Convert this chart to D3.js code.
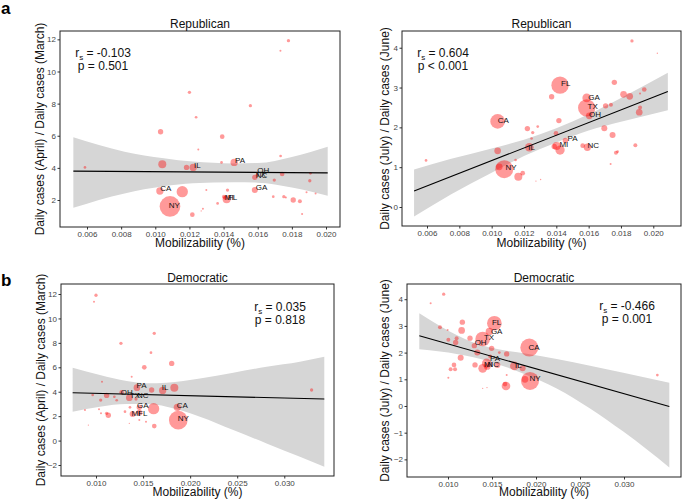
<!DOCTYPE html>
<html><head><meta charset="utf-8">
<script src="https://cdn.jsdelivr.net/npm/d3@7"></script>
<style>
body{margin:0;background:#fff}
svg{display:block}
text{font-family:"Liberation Sans",Arial,Helvetica,sans-serif}
</style>
</head><body>
<svg id="chart" width="685" height="502"></svg>
<script>
// ---------------- DATA ----------------
// Tick values
const xTicksRep = [0.006, 0.008, 0.010, 0.012, 0.014, 0.016, 0.018, 0.020];
const xTicksDem = [0.010, 0.015, 0.020, 0.025, 0.030];
const yTicksRepApr = [2, 4, 6, 8, 10, 12];
const yTicksRepJul = [0, 1, 2, 3, 4];
const yTicksDemApr = [-2, 0, 2, 4, 6, 8, 10, 12];
const yTicksDemJul = [-2, -1, 0, 1, 2, 3, 4];

// Panel a (left): Republican, April / March
const repAprX = [0.00588,0.01031,0.01392,0.01252,0.01041,0.01183,0.01222,0.01388,0.01462,0.01734,0.01583,0.01597,0.01743,0.01697,0.01909,0.01905,0.01027,0.01158,0.01299,0.01423,0.01583,0.01086,0.01217,0.01279,0.01269,0.01365,0.01402,0.01418,0.01410,0.01691,0.01753,0.01765,0.01808,0.01847,0.01886,0.01939,0.01860,0.01200,0.01239,0.01557,0.01733,0.01780];
const repAprY = [4.03,6.25,5.94,5.15,4.22,4.03,4.03,4.34,4.34,4.74,3.41,3.56,3.62,3.24,3.66,3.20,2.56,2.52,2.62,2.62,2.62,1.60,1.09,1.46,1.32,1.79,2.21,2.04,2.12,2.21,2.21,2.15,2.00,1.92,2.48,2.41,1.13,8.70,7.15,7.87,11.29,11.92];
const repAprSize = [1.6,6.3,4.8,0.9,14.1,6.3,11.8,1.6,11.8,1.6,6.3,2.4,4.8,2.4,1.6,2.4,11.8,28.2,0.9,2.4,7.9,93.8,4.8,0.9,0.4,1.6,3.5,14.1,3.5,1.6,2.4,0.9,6.3,3.5,0.9,0.9,0.9,2.4,1.6,2.4,0.9,2.4];
const repAprLabels = ["PA","IL","OH","NC","TX","GA","CA","NY","MI","FL"];
const repAprLabelX = [0.01496,0.01246,0.01632,0.01622,0.01617,0.01622,0.01062,0.01111,0.01433,0.01453];
const repAprLabelY = [4.45,4.18,3.83,3.54,3.58,2.77,2.73,1.69,2.15,2.15];
const repAprFitX = [0.0052, 0.0201];
const repAprFitY = [3.80, 3.69];
const repAprBandX = [0.0052,0.0082,0.0105,0.0122,0.0146,0.016,0.018,0.0201];
const repAprBandLo = [1.52,2.41,2.85,3.04,3.10,3.08,2.78,2.27];
const repAprBandHi = [5.90,5.01,4.60,4.39,4.28,4.30,4.68,5.32];
const repAprStats = ["= -0.103", "p = 0.501"];

// Panel a (right): Republican, July / June
const repJulX = [0.00594,0.01037,0.01037,0.01047,0.01078,0.01165,0.01192,0.01148,0.01221,0.01247,0.01254,0.01285,0.01233,0.01274,0.01303,0.01371,0.01398,0.01416,0.01402,0.01423,0.01423,0.01456,0.01563,0.01588,0.01588,0.01604,0.01592,0.01697,0.01705,0.01738,0.01759,0.01748,0.01736,0.01769,0.01779,0.01816,0.01854,0.01868,0.01889,0.01918,0.01944,0.01913,0.01918,0.02025,0.01387];
const repJulY = [1.17,1.41,2.15,1.01,0.95,0.76,0.85,1.18,1.97,1.72,1.87,2.02,1.50,0.65,0.69,2.77,1.85,2.17,1.53,1.43,3.06,1.67,1.54,2.74,2.49,2.29,1.50,1.98,2.54,2.57,3.13,1.81,1.08,1.36,1.39,2.83,2.78,4.17,1.55,2.85,2.95,2.38,2.50,3.86,1.52];
const repJulSize = [1.6,9.8,47.3,9.8,71.2,14.1,4.8,1.6,6.3,1.6,2.4,1.6,16.5,0.4,0.4,6.3,4.8,6.3,14.1,19.1,66,6.3,4.8,16.5,66,9.8,11.8,7.9,6.3,3.5,6.3,7.9,0.9,3.5,1.6,9.8,9.8,2.4,3.5,0.9,4.8,9.8,3.5,0.4,6.3];
const repJulLabels = ["FL","GA","TX","OH","CA","PA","MI","NC","IL","NY"];
const repJulLabelX = [0.01458,0.01633,0.01625,0.01639,0.01072,0.01501,0.01447,0.01629,0.01247,0.01120];
const repJulLabelY = [3.10,2.77,2.52,2.33,2.17,1.72,1.57,1.54,1.51,1.00];
const repJulFitX = [0.0052, 0.0209];
const repJulFitY = [0.40, 2.90];
const repJulBandX = [0.0052,0.0075,0.010,0.012,0.014,0.016,0.018,0.0209];
const repJulBandLo = [-0.24,0.32,0.86,1.28,1.62,1.92,2.14,2.43];
const repJulBandHi = [0.94,1.21,1.47,1.69,1.98,2.33,2.74,3.37];
const repJulStats = ["= 0.604", "p < 0.001"];

// Panel b (left): Democratic, April / March
const demAprX = [0.0100,0.00979,0.01265,0.01619,0.01584,0.01513,0.01804,0.01379,0.01064,0.01435,0.01591,0.01708,0.01832,0.00965,0.01113,0.01050,0.01195,0.01273,0.01354,0.01425,0.00883,0.01032,0.01053,0.01131,0.01113,0.00919,0.01308,0.01361,0.01389,0.01460,0.01460,0.01612,0.01460,0.01531,0.01619,0.01864,0.01874,0.03290,0.01354,0.01220];
const demAprY = [11.9,11.37,7.96,8.78,7.20,6.00,6.32,5.23,4.82,4.33,4.14,4.11,4.33,3.73,3.70,3.32,3.59,3.95,3.51,3.40,2.50,2.56,2.23,2.07,2.23,1.27,2.37,2.72,2.17,2.72,2.28,2.61,1.68,1.55,1.19,2.72,1.68,4.14,1.41,3.30];
const demAprSize = [2.4,0.9,2.4,2.4,1.6,4.8,6.3,0.9,0.9,9.8,6.3,11.8,14.1,1.6,6.3,2.4,1.6,4.8,9.8,2.4,0.9,0.9,0.9,6.3,2.4,0.4,1.6,1.6,7.9,6.3,7.9,28.2,0.9,0.9,4.8,11.8,76.6,2.4,0.4,1.6];
const demAprLabels = ["PA","IL","OH","TX","NC","GA","MI","FL","CA","NY"];
const demAprLabelX = [0.01485,0.01733,0.01326,0.01414,0.01496,0.01496,0.01425,0.01496,0.01917,0.01927];
const demAprLabelY = [4.55,4.36,4.00,3.68,3.68,2.91,2.28,2.28,2.86,1.82];
const demAprFitX = [0.00752, 0.03425];
const demAprFitY = [3.92, 3.40];
const demAprBandX = [0.00752,0.01042,0.01326,0.01538,0.0175,0.02104,0.02458,0.02812,0.03166,0.03425];
const demAprBandLo = [2.37,2.78,2.99,2.99,2.78,1.96,0.86,-0.23,-1.32,-2.14];
const demAprBandHi = [5.97,5.37,4.88,4.69,4.74,5.09,5.56,6.05,6.46,6.87];
const demAprStats = ["= 0.035", "p = 0.818"];

// Panel b (right): Democratic, July / June
const demJulX = [0.00803,0.00951,0.00909,0.00996,0.01004,0.01004,0.01030,0.01068,0.01080,0.01087,0.01098,0.01155,0.01163,0.01144,0.01250,0.01299,0.01307,0.01333,0.01394,0.01394,0.01443,0.01394,0.01439,0.01447,0.01470,0.01496,0.01527,0.01480,0.01561,0.01583,0.01667,0.01667,0.01659,0.01648,0.01754,0.01848,0.01924,0.01932,0.01875,0.03379];
const demJulY = [3.85,4.19,2.95,2.85,2.48,1.06,1.38,1.54,1.38,2.38,2.54,2.83,3.14,1.81,2.54,2.26,1.54,2.00,2.51,0.66,0.69,1.41,1.60,1.48,2.79,2.16,3.10,1.85,1.54,2.00,1.16,1.95,0.75,0.82,1.50,1.41,2.19,0.94,1.00,1.16];
const demJulSize = [0.9,2.4,3.5,0.9,3.5,0.9,3.5,4.8,3.5,6.3,3.5,9.8,6.3,7.9,6.3,6.3,6.3,7.9,47.3,0.4,0.4,16.5,19.1,9.8,11.8,6.3,47.3,3.5,7.9,1.6,0.9,6.3,16.5,4.8,16.5,7.9,71.2,71.2,9.8,1.6];
const demJulLabels = ["FL","GA","TX","OH","CA","PA","MI","NC","IL","NY"];
const demJulLabelX = [0.01553,0.01553,0.01466,0.01371,0.01977,0.01534,0.01459,0.01515,0.01799,0.01989];
const demJulLabelY = [3.14,2.81,2.58,2.38,2.19,1.79,1.58,1.58,1.54,1.04];
const demJulFitX = [0.00674, 0.03515];
const demJulFitY = [2.63, -0.02];
const demJulBandX = [0.00674,0.00909,0.01098,0.01288,0.01477,0.01667,0.01894,0.02235,0.02614,0.02992,0.03515];
const demJulBandLo = [2.125,2.04,1.95,1.825,1.66,1.45,1.16,0.66,-0.09,-0.96,-2.30];
const demJulBandHi = [3.475,3.0,2.66,2.38,2.19,2.07,1.96,1.76,1.51,1.25,0.875];
const demJulStats = ["= -0.466", "p = 0.001"];

const xTitle = "Mobilizability (%)";
const yTitleApr = "Daily cases (April) / Daily cases (March)";
const yTitleJul = "Daily cases (July) / Daily cases (June)";

// ---------------- DRAW ----------------
const svg = d3.select("#chart");
const rScale = d3.scaleSqrt().domain([0, 100]).range([0, 10.67]);

function drawPanel(c) {
  const x = d3.scaleLinear().domain(c.xDomain).range([c.box.l, c.box.r]);
  const y = d3.scaleLinear().domain(c.yDomain).range([c.box.b, c.box.t]);
  const g = svg.append("g");

  // confidence band
  const band = c.bandX.map((v, i) => ({x: v, lo: c.bandLo[i], hi: c.bandHi[i]}));
  g.append("path").datum(band)
    .attr("d", d3.area().x(d => x(d.x)).y0(d => y(d.lo)).y1(d => y(d.hi)).curve(d3.curveMonotoneX))
    .attr("fill", "#d6d6d6");

  // points
  const pts = c.px.map((v, i) => ({x: v, y: c.py[i], s: c.ps[i]}));
  pts.sort((a, b) => b.s - a.s);
  g.selectAll("circle.pt").data(pts).enter().append("circle")
    .attr("cx", d => x(d.x)).attr("cy", d => y(d.y))
    .attr("r", d => rScale(d.s))
    .attr("fill", "#ff0000").attr("fill-opacity", 0.4);

  // fit line
  const fit = c.fitX.map((v, i) => ({x: v, y: c.fitY[i]}));
  g.append("path").datum(fit)
    .attr("d", d3.line().x(d => x(d.x)).y(d => y(d.y)))
    .attr("stroke", "#000").attr("stroke-width", 1.1).attr("fill", "none");

  // state labels
  const labs = c.labels.map((t, i) => ({t, x: c.labelX[i], y: c.labelY[i]}));
  g.selectAll("text.lab").data(labs).enter().append("text")
    .attr("x", d => x(d.x)).attr("y", d => y(d.y))
    .attr("dy", "0.35em").attr("text-anchor", "middle")
    .attr("font-size", 8).attr("fill", "#111")
    .text(d => d.t);

  // axes
  const ax = g.append("g").attr("transform", `translate(0,${c.box.b})`)
    .call(d3.axisBottom(x).tickValues(c.xTicks).tickFormat(d3.format(".3f")).tickSize(2.5).tickPadding(1.5));
  const ay = g.append("g").attr("transform", `translate(${c.box.l},0)`)
    .call(d3.axisLeft(y).tickValues(c.yTicks).tickFormat(d3.format("d")).tickSize(2.5).tickPadding(1.5));
  [ax, ay].forEach(a => {
    a.select(".domain").remove();
    a.selectAll(".tick line").attr("stroke", "#333");
    a.selectAll(".tick text").attr("fill", "#444").attr("font-size", 8)
      .attr("font-family", '"Liberation Sans",Arial,sans-serif');
  });

  // border
  g.append("rect").attr("x", c.box.l).attr("y", c.box.t)
    .attr("width", c.box.r - c.box.l).attr("height", c.box.b - c.box.t)
    .attr("fill", "none").attr("stroke", "#222").attr("stroke-width", 1);

  // title
  g.append("text").attr("x", (c.box.l + c.box.r) / 2).attr("y", c.titleY)
    .attr("text-anchor", "middle").attr("font-size", 12).attr("fill", "#111").text(c.title);

  // axis titles
  g.append("text").attr("x", (c.box.l + c.box.r) / 2).attr("y", c.xTitleY)
    .attr("text-anchor", "middle").attr("font-size", 12).attr("fill", "#111").text(xTitle);
  g.append("text").attr("transform", `translate(${c.yTitleX},${(c.box.t + c.box.b) / 2}) rotate(-90)`)
    .attr("text-anchor", "middle").attr("font-size", 12).attr("fill", "#111").text(c.yTitle);

  // stats
  const s1 = g.append("text").attr("x", c.statX).attr("y", c.statY)
    .attr("text-anchor", "middle").attr("font-size", 12).attr("fill", "#111");
  s1.append("tspan").text("r");
  s1.append("tspan").attr("font-size", 8).attr("dy", 3).text("s");
  s1.append("tspan").attr("dy", -3).text(" " + c.stats[0]);
  g.append("text").attr("x", c.statX).attr("y", c.statY + 13)
    .attr("text-anchor", "middle").attr("font-size", 12).attr("fill", "#111").text(c.stats[1]);
}

drawPanel({
  box: {l: 60, r: 340, t: 31, b: 227},
  xDomain: [0.004418, 0.02082], yDomain: [0.32, 12.52],
  xTicks: xTicksRep, yTicks: yTicksRepApr,
  px: repAprX, py: repAprY, ps: repAprSize,
  labels: repAprLabels, labelX: repAprLabelX, labelY: repAprLabelY,
  fitX: repAprFitX, fitY: repAprFitY,
  bandX: repAprBandX, bandLo: repAprBandLo, bandHi: repAprBandHi,
  stats: repAprStats, statX: 103, statY: 57,
  title: "Republican", titleY: 27.5, xTitleY: 247, yTitleX: 44, yTitle: yTitleApr
});
drawPanel({
  box: {l: 402, r: 681, t: 31, b: 226},
  xDomain: [0.004453, 0.021714], yDomain: [-0.477, 4.42],
  xTicks: xTicksRep, yTicks: yTicksRepJul,
  px: repJulX, py: repJulY, ps: repJulSize,
  labels: repJulLabels, labelX: repJulLabelX, labelY: repJulLabelY,
  fitX: repJulFitX, fitY: repJulFitY,
  bandX: repJulBandX, bandLo: repJulBandLo, bandHi: repJulBandHi,
  stats: repJulStats, statX: 443, statY: 57,
  title: "Republican", titleY: 27.5, xTitleY: 247, yTitleX: 389, yTitle: yTitleJul
});
drawPanel({
  box: {l: 61, r: 334, t: 284, b: 476},
  xDomain: [0.006283, 0.03528], yDomain: [-2.90, 12.82],
  xTicks: xTicksDem, yTicks: yTicksDemApr,
  px: demAprX, py: demAprY, ps: demAprSize,
  labels: demAprLabels, labelX: demAprLabelX, labelY: demAprLabelY,
  fitX: demAprFitX, fitY: demAprFitY,
  bandX: demAprBandX, bandLo: demAprBandLo, bandHi: demAprBandHi,
  stats: demAprStats, statX: 280, statY: 311,
  title: "Democratic", titleY: 282, xTitleY: 496, yTitleX: 44.5, yTitle: yTitleApr
});
drawPanel({
  box: {l: 407, r: 681, t: 284, b: 477},
  xDomain: [0.005341, 0.036477], yDomain: [-2.66, 4.57],
  xTicks: xTicksDem, yTicks: yTicksDemJul,
  px: demJulX, py: demJulY, ps: demJulSize,
  labels: demJulLabels, labelX: demJulLabelX, labelY: demJulLabelY,
  fitX: demJulFitX, fitY: demJulFitY,
  bandX: demJulBandX, bandLo: demJulBandLo, bandHi: demJulBandHi,
  stats: demJulStats, statX: 627, statY: 310,
  title: "Democratic", titleY: 282, xTitleY: 496, yTitleX: 389, yTitle: yTitleJul
});

// panel letters
svg.append("text").attr("x", 1).attr("y", 14).attr("font-size", 17).attr("font-weight", "bold").attr("fill", "#000").text("a");
svg.append("text").attr("x", 1).attr("y", 286).attr("font-size", 17).attr("font-weight", "bold").attr("fill", "#000").text("b");
</script>
</body></html>
